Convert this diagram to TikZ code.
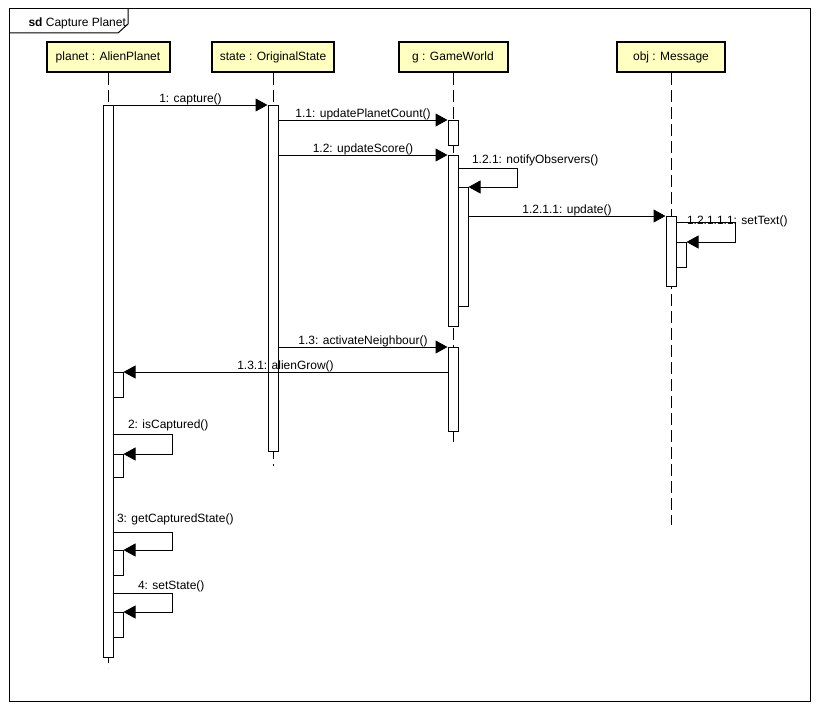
\documentclass[tikz,border=0pt]{standalone}
\usepackage{fontspec}
\setmainfont{Liberation Sans}
\usetikzlibrary{arrows.meta}
\definecolor{headfill}{RGB}{255,255,192}
\begin{document}
\begin{tikzpicture}[x=1pt,y=-1pt,line width=1pt,
  font=\fontsize{12}{14}\selectfont,
  head/.style={draw, line width=2pt, fill=headfill, minimum height=30, inner sep=0},
  act/.style={draw, fill=white, minimum width=10, inner sep=0, anchor=north},
  life/.style={dash pattern=on 12pt off 5pt},
  msg/.style={-{Triangle[length=12pt,width=13pt]}},
  lbl/.style={anchor=base, yshift=3pt, inner sep=0},
  slbl/.style={anchor=base west, inner sep=0}]
\useasboundingbox (0,0) rectangle (818,709);

% interaction frame with its name tab
\draw (9,9) rectangle (810,701);
\draw (9,33) -- (118,33) -- (128,24) -- (128,9);
\node[slbl] (sdname) at (28,27) {\textbf{sd} Capture Planet};

% lifeline heads
\node[head, minimum width=123] (planet) at (108,57) {planet : AlienPlanet};
\node[head, minimum width=122] (state)  at (273,57) {state : OriginalState};
\node[head, minimum width=109] (world)  at (453,57) {g : GameWorld};
\node[head, minimum width=108] (obj)    at (671,57) {obj : Message};

% lifelines
\coordinate (planetEnd) at (108,668);
\coordinate (stateEnd)  at (273,466);
\coordinate (worldEnd)  at (453,445);
\coordinate (objEnd)    at (671,525);
\draw[life] (planet.south) -- (planetEnd);
\draw[life] (state.south)  -- (stateEnd);
\draw[life] (world.south)  -- (worldEnd);
\draw[life] (obj.south)    -- (objEnd);

% activation bars
\node[act, minimum height=552] (pa)  at (108,105) {};
\node[act, minimum height=25]  (pa2) at (118,372) {};
\node[act, minimum height=23]  (pa3) at (118,454) {};
\node[act, minimum height=25]  (pa4) at (118,550) {};
\node[act, minimum height=25]  (pa5) at (118,612) {};
\node[act, minimum height=346] (sa)  at (273,105) {};
\node[act, minimum height=25]  (ga1) at (453,120) {};
\node[act, minimum height=171] (ga2) at (453,155) {};
\node[act, minimum height=119] (ga3) at (463,187) {};
\node[act, minimum height=84]  (ga4) at (453,347) {};
\node[act, minimum height=70]  (oa)  at (671,216) {};
\node[act, minimum height=25]  (oa2) at (681,242) {};

% messages
\draw[msg] (pa.north east) -- node[lbl] {1: capture()} (sa.north west);
\draw[msg] (sa.east |- ga1.north) -- node[lbl] {1.1: updatePlanetCount()} (ga1.north west);
\draw[msg] (sa.east |- ga2.north) -- node[lbl] {1.2: updateScore()} (ga2.north west);
\draw[msg] ([yshift=-13pt]ga2.north east)
    node[slbl, xshift=13pt, yshift=5pt] {1.2.1: notifyObservers()}
    -| ([xshift=49pt]ga3.north east) -- (ga3.north east);
\draw[msg] (ga3.east |- oa.north) -- node[lbl] {1.2.1.1: update()} (oa.north west);
\draw[msg] ([yshift=-6pt]oa.north east)
    node[slbl, xshift=10pt, yshift=-2pt] {1.2.1.1.1: setText()}
    -| ([xshift=49pt]oa2.north east) -- (oa2.north east);
\draw[msg] (sa.east |- ga4.north) -- node[lbl] {1.3: activateNeighbour()} (ga4.north west);
\draw[msg] (ga4.west |- pa2.north) -- node[lbl] {1.3.1: alienGrow()} (pa2.north east);
\draw[msg] ([yshift=20pt]pa3.north west)
    node[slbl, xshift=15pt, yshift=6pt] {2: isCaptured()}
    -| ([xshift=49pt]pa3.north east) -- (pa3.north east);
\draw[msg] ([yshift=18pt]pa4.north west)
    node[slbl, xshift=4pt, yshift=10pt] {3: getCapturedState()}
    -| ([xshift=49pt]pa4.north east) -- (pa4.north east);
\draw[msg] ([yshift=19pt]pa5.north west)
    node[slbl, xshift=25pt, yshift=4pt] {4: setState()}
    -| ([xshift=49pt]pa5.north east) -- (pa5.north east);
\end{tikzpicture}
\end{document}
